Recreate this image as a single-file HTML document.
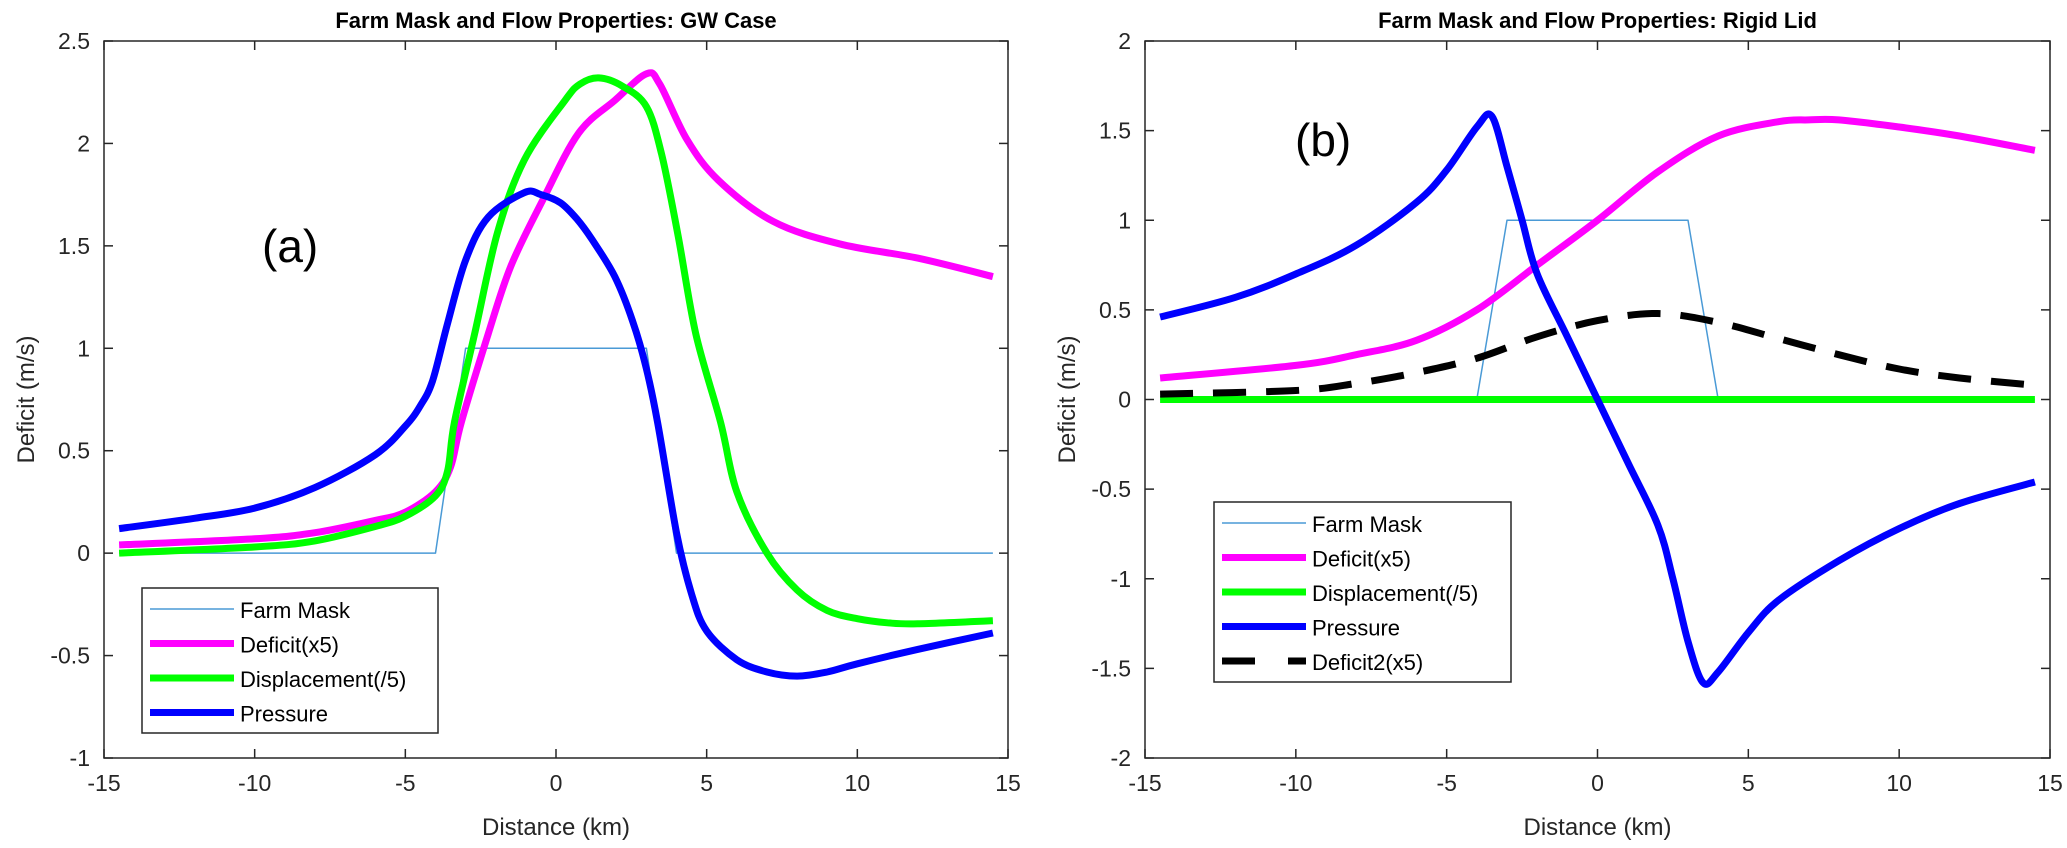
<!DOCTYPE html>
<html><head><meta charset="utf-8"><style>
html,body{margin:0;padding:0;background:#fff;}
svg{display:block;font-family:"Liberation Sans",Arial,sans-serif;}
</style></head><body>
<svg id="chart" width="2067" height="848" viewBox="0 0 2067 848" xmlns="http://www.w3.org/2000/svg"></svg>
<script>
// ---- Panel (a) GW case data ----
const aMaskX = [-14.5,-4,-3,3,4,14.5];
const aMaskY = [0,0,1,1,0,0];
const aDefX = [-14.5,-10,-8,-6,-5,-4,-3.5,-3.14,-2.25,-1.5,-0.45,0.75,1.95,3.0,3.44,4.34,5.39,7.2,9.4,12,14.5];
const aDefY = [0.04,0.07,0.1,0.16,0.2,0.3,0.42,0.64,1.07,1.4,1.72,2.05,2.21,2.34,2.29,2.02,1.82,1.62,1.51,1.44,1.35];
const aDispX = [-14.5,-10,-8,-6,-5,-4,-3.6,-3.37,-2.7,-1.95,-1.05,0.3,0.8,1.42,2.2,3.0,3.5,4.04,4.64,5.46,6,7,8,9,10,11,12,14.5];
const aDispY = [0.0,0.03,0.06,0.13,0.18,0.28,0.4,0.64,1.07,1.56,1.92,2.21,2.29,2.32,2.28,2.18,1.95,1.56,1.07,0.64,0.3,0.0,-0.18,-0.28,-0.32,-0.34,-0.345,-0.33];
const aPresX = [-14.5,-12,-10,-8,-6,-5,-4.5,-4.1,-3.6,-3.0,-2.25,-1.05,-0.5,0.15,0.7,1.2,1.95,2.55,3.0,3.37,4,4.5,5,6,7,8,9,10,12,14.5];
const aPresY = [0.12,0.17,0.22,0.32,0.48,0.62,0.72,0.84,1.12,1.43,1.64,1.76,1.75,1.71,1.63,1.53,1.35,1.13,0.9,0.64,0.1,-0.2,-0.38,-0.52,-0.58,-0.6,-0.58,-0.54,-0.47,-0.39];
const aYTicks = [-1,-0.5,0,0.5,1,1.5,2,2.5];
const xTicks = [-15,-10,-5,0,5,10,15];
// ---- Panel (b) rigid lid data ----
const bMaskX = [-14.5,-4,-3,3,4,14.5];
const bMaskY = [0,0,1,1,0,0];
const bDefX = [-14.5,-10,-8,-6,-4,-2,0,2,4,6,7,8,10,12,14.5];
const bDefY = [0.12,0.19,0.25,0.33,0.5,0.75,1.0,1.27,1.47,1.55,1.56,1.56,1.52,1.47,1.39];
const bDispX = [-14.5,14.5];
const bDispY = [0,0];
const bPresX = [-14.5,-12,-10,-8,-6,-5,-4,-3.5,-3,-2.5,-2,-1,0,1,2,2.5,3,3.5,4,5,6,8,10,12,14.5];
const bPresY = [0.46,0.57,0.7,0.86,1.1,1.28,1.52,1.58,1.3,1.0,0.7,0.35,0,-0.35,-0.7,-1.0,-1.35,-1.58,-1.52,-1.3,-1.12,-0.9,-0.72,-0.58,-0.46];
const bDef2X = [-14.5,-10,-8,-6,-4,-2,0,2,4,6,8,10,12,14.5];
const bDef2Y = [0.03,0.05,0.09,0.15,0.23,0.35,0.44,0.48,0.43,0.34,0.25,0.17,0.12,0.08];
const bYTicks = [-2,-1.5,-1,-0.5,0,0.5,1,1.5,2];

const NS="http://www.w3.org/2000/svg";
const svg=document.getElementById('chart');
function el(tag,attrs,parent){const e=document.createElementNS(NS,tag);for(const k in attrs)e.setAttribute(k,attrs[k]);(parent||svg).appendChild(e);return e;}
function txt(s,attrs,parent){const e=el('text',attrs,parent);e.textContent=s;return e;}
function smoothPath(pts){
  let d='M'+pts[0][0].toFixed(1)+','+pts[0][1].toFixed(1);
  for(let i=0;i<pts.length-1;i++){
    const p0=pts[Math.max(0,i-1)],p1=pts[i],p2=pts[i+1],p3=pts[Math.min(pts.length-1,i+2)];
    const c1=[p1[0]+(p2[0]-p0[0])/6,p1[1]+(p2[1]-p0[1])/6];
    const c2=[p2[0]-(p3[0]-p1[0])/6,p2[1]-(p3[1]-p1[1])/6];
    d+='C'+c1[0].toFixed(1)+','+c1[1].toFixed(1)+' '+c2[0].toFixed(1)+','+c2[1].toFixed(1)+' '+p2[0].toFixed(1)+','+p2[1].toFixed(1);
  }
  return d;
}

function panel(cfg){
  const g=el('g',{});
  
  
  const L=cfg.L,R=cfg.R,T=41,B=758;
  const sx=v=>L+(v+15)/30*(R-L);
  const sy=v=>B-(v-cfg.ymin)/(cfg.ymax-cfg.ymin)*(B-T);
  const t=txt(cfg.title,{x:(L+R)/2,y:28,'text-anchor':'middle','font-size':22,'font-weight':'bold',fill:'#000'},g);
  
  
  const mk=(s)=>{
    const pts=s.x.map((x,i)=>[sx(x),sy(s.y[i])]);
    const d=s.straight?pts.map((p,i)=>(i?'L':'M')+p[0].toFixed(1)+','+p[1].toFixed(1)).join(''):smoothPath(pts);
    const p=el('path',{d:d,fill:'none',stroke:s.c,'stroke-width':s.w,'stroke-linejoin':'round'},g);
    if(s.d)p.setAttribute('stroke-dasharray',s.d);
    
    
  };
  cfg.series.forEach(mk);
  const box=el('rect',{x:L,y:T,width:R-L,height:B-T,fill:'none',stroke:'#262626','stroke-width':1.5},g);
  
  
  xTicks.forEach(v=>{
    const x=sx(v);
    el('line',{x1:x,y1:B,x2:x,y2:B-9,stroke:'#262626','stroke-width':1.5},g);
    el('line',{x1:x,y1:T,x2:x,y2:T+9,stroke:'#262626','stroke-width':1.5},g);
    const l=txt(String(v),{x:x,y:B+33,'text-anchor':'middle','font-size':23,fill:'#262626'},g);
    
    
  });
  cfg.yticks.forEach(v=>{
    const y=sy(v);
    el('line',{x1:L,y1:y,x2:L+9,y2:y,stroke:'#262626','stroke-width':1.5},g);
    el('line',{x1:R,y1:y,x2:R-9,y2:y,stroke:'#262626','stroke-width':1.5},g);
    const l=txt(String(v),{x:L-14,y:y+8,'text-anchor':'end','font-size':23,fill:'#262626'},g);
    
    
  });
  const xl=txt('Distance (km)',{x:(L+R)/2,y:835,'text-anchor':'middle','font-size':24,fill:'#262626'},g);
  
  
  const yl=txt('Deficit (m/s)',{x:0,y:0,'text-anchor':'middle','font-size':24,fill:'#262626',transform:`translate(${L-70},${(T+B)/2}) rotate(-90)`},g);
  
  
  const pl=txt(cfg.label,{x:cfg.labelX,y:cfg.labelY,'font-size':46,fill:'#000'},g);
  
  
  const lg=el('g',{},g);
  
  
  const lb=cfg.legend;
  el('rect',{x:lb.x,y:lb.y,width:lb.w,height:lb.h,fill:'#fff',stroke:'#262626','stroke-width':1.5},lg);
  cfg.series.forEach((s,i)=>{
    const y=lb.y+21+i*lb.step;
    const e=el('g',{},lg);
    
    
    const ln=el('line',{x1:lb.x+8,y1:y,x2:lb.x+92,y2:y,stroke:s.c,'stroke-width':s.w},e);
    if(s.d)ln.setAttribute('stroke-dasharray','33,33');
    txt(s.label,{x:lb.x+98,y:y+9,'font-size':22,fill:'#000'},e);
  });
}

panel({name:'panel-a-gw-case',L:104,R:1008,ymin:-1,ymax:2.5,yticks:aYTicks,
  title:'Farm Mask and Flow Properties: GW Case',label:'(a)',labelX:262,labelY:262,
  legend:{x:142,y:588,w:296,h:145,step:34.5},
  series:[
    {x:aMaskX,y:aMaskY,c:'#4a9ad6',w:1.5,n:'farm-mask-line',label:'Farm Mask',straight:true},
    {x:aDefX,y:aDefY,c:'#ff00ff',w:7,n:'deficit-line',label:'Deficit(x5)'},
    {x:aDispX,y:aDispY,c:'#00ff00',w:7,n:'displacement-line',label:'Displacement(/5)'},
    {x:aPresX,y:aPresY,c:'#0000ff',w:7,n:'pressure-line',label:'Pressure'}
  ]});
panel({name:'panel-b-rigid-lid',L:1145,R:2050,ymin:-2,ymax:2,yticks:bYTicks,
  title:'Farm Mask and Flow Properties: Rigid Lid',label:'(b)',labelX:1295,labelY:156,
  legend:{x:1214,y:502,w:297,h:180,step:34.5},
  series:[
    {x:bMaskX,y:bMaskY,c:'#4a9ad6',w:1.5,n:'farm-mask-line',label:'Farm Mask',straight:true},
    {x:bDefX,y:bDefY,c:'#ff00ff',w:7,n:'deficit-line',label:'Deficit(x5)'},
    {x:bDispX,y:bDispY,c:'#00ff00',w:7,n:'displacement-line',label:'Displacement(/5)',straight:true},
    {x:bPresX,y:bPresY,c:'#0000ff',w:7,n:'pressure-line',label:'Pressure'},
    {x:bDef2X,y:bDef2Y,c:'#000000',w:7,n:'deficit2-line',label:'Deficit2(x5)',d:'33,20'}
  ]});
</script>
</body></html>
